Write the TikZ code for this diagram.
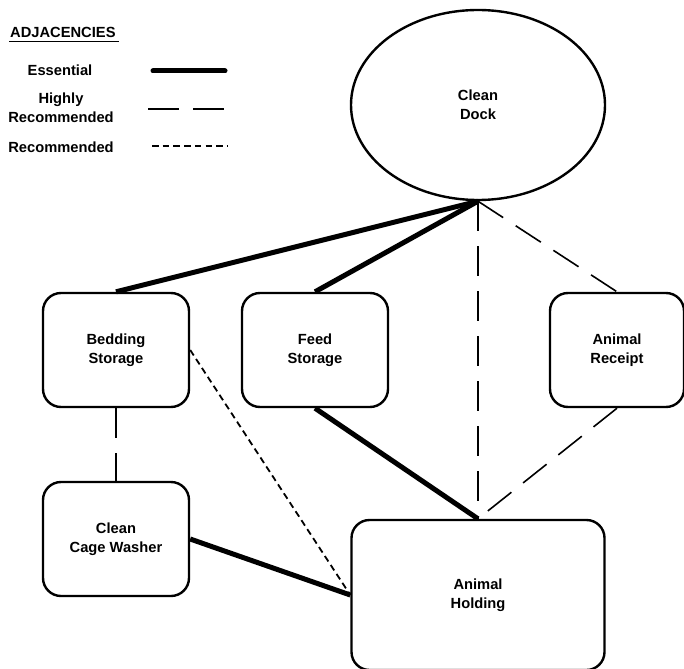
\documentclass[tikz,border=0pt]{standalone}
\usepackage{fontspec}
\setmainfont{Liberation Sans}
\usetikzlibrary{shapes.geometric}

\begin{document}
\begin{tikzpicture}[x=1pt, y=-1pt,
		legendtext/.style={align=center, inner sep=0pt, font=\fontsize{14.7}{19}\selectfont\bfseries},
		room/.style={draw, line width=2.4pt, rounded corners=18pt, minimum width=146pt, minimum height=114pt, align=center, font=\fontsize{14.7}{19}\selectfont\bfseries},
		essential/.style={line width=5pt},
		highly/.style={line width=1.6pt, dash pattern=on 30pt off 15pt},
		recommended/.style={line width=1.8pt, dash pattern=on 6.5pt off 4.2pt}]
			\useasboundingbox (0,0) rectangle (684,668);
			% legend
			\node[legendtext, anchor=base west] (title) at (10,38) {ADJACENCIES};
			\draw[line width=1pt] (title.base west) ++(-1,4) -- ++(110,0);
			\node[legendtext] (ess) at (60,70) {Essential};
			\node[legendtext] (high) at (61,108) {Highly\\Recommended};
			\node[legendtext] (rec) at (61,147) {Recommended};
			\draw[essential, line cap=round] (153,71) -- (225,71);
			\draw[highly, dash pattern=on 31pt off 14pt] (148,109) -- (226,109);
			\draw[recommended] (152,146) -- (227,146);
			% rooms
			\node[ellipse, draw, line width=2.4pt, minimum width=254pt, minimum height=190pt, align=center, font=\fontsize{14.7}{19}\selectfont\bfseries] (dock) at (478,105) {Clean\\Dock};
			\node[room] (bedding) at (116,350) {Bedding\\Storage};
			\node[room] (feed) at (315,350) {Feed\\Storage};
			\node[room, minimum width=134pt] (receipt) at (617,350) {Animal\\Receipt};
			\node[room] (washer) at (116,539) {Clean\\Cage Washer};
			\node[room, minimum width=253pt, minimum height=150pt] (holding) at (478,595) {Animal\\Holding};
			% adjacencies
			\draw[essential] (dock.south) -- (bedding.north);
			\draw[essential] (dock.south) -- (feed.north);
			\draw[essential] (feed.south) -- (holding.north);
			\draw[essential] (washer.east) -- (holding.west);
			\draw[highly] (dock.south) -- (holding.north);
			\draw[highly] (dock.south) -- (receipt.north);
			\draw[highly] (receipt.south) -- (holding.north);
			\draw[highly] (bedding.south) -- (washer.north);
			\draw[recommended] (bedding.east) -- (holding.west);
\end{tikzpicture}
\end{document}
